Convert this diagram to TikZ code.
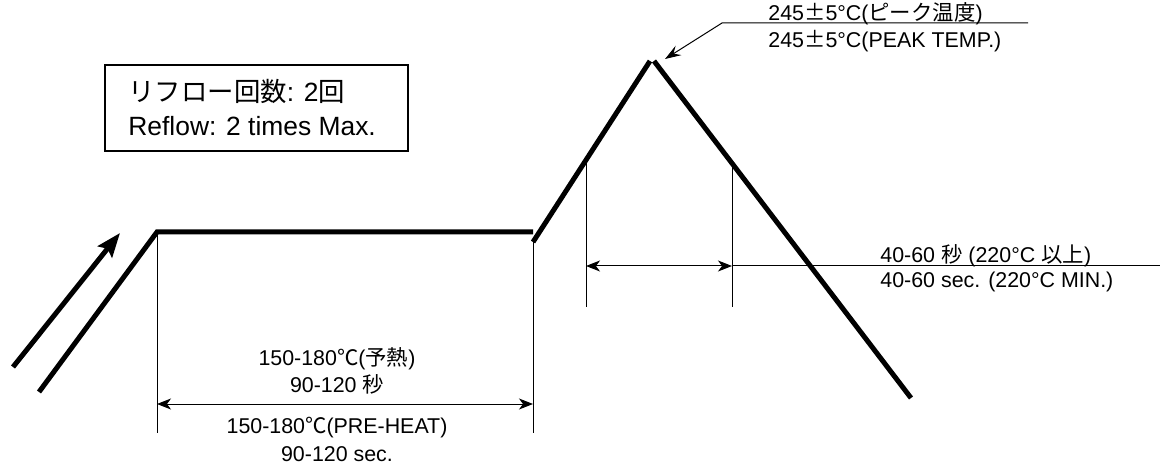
\documentclass[tikz,border=0pt]{standalone}
\usepackage{fontspec}
\setmainfont{Liberation Sans}
\newfontfamily\jpfont{Noto Sans CJK JP}
\usepackage{xcolor}
\usetikzlibrary{arrows.meta}
\usetikzlibrary{positioning}

\begin{document}
\begin{tikzpicture}[x=0.5pt,y=-0.5pt,
        profile/.style={line width=2.5pt},
        thinline/.style={line width=0.5pt},
        dimarrow/.style={thinline,{Stealth[length=7pt,width=5.5pt,inset=2pt]}-{Stealth[length=7pt,width=5.5pt,inset=2pt]}},
        lbl/.style={font=\fontsize{10.7}{13}\selectfont, inner sep=0pt},
        boxlbl/.style={font=\fontsize{13.2}{16}\selectfont, inner sep=0pt, anchor=base west}]
        \useasboundingbox (0,0) rectangle (1160,464);
    %Profile
        \coordinate (start) at (39,392);
        \coordinate (preL) at (157,232);
        \coordinate (preR) at (533,232);
        \coordinate (rampL) at (533,242);
        \coordinate (peakL) at (650,61);
        \coordinate (peakR) at (654,61);
        \coordinate (coolEnd) at (911,398);
        \draw[profile] (start) -- (preL) -- (preR);
        \draw[profile] (rampL) -- (peakL);
        \draw[profile] (peakR) -- (coolEnd);
        \coordinate (heatS) at (13,367);
        \coordinate (heatE) at (120,233);
        \draw[profile,-{Stealth[length=12pt,width=9pt,inset=2pt]}] (heatS) -- (heatE);
    %Preheat
        \coordinate (preBase) at (0,433);
        \coordinate (preDim) at (0,404);
        \draw[thinline] (preL) -- (preL |- preBase);
        \draw[thinline] (rampL) -- (rampL |- preBase);
        \draw[dimarrow] (preL |- preDim) -- (preR |- preDim);
        \node[lbl, anchor=base] (preJa) at (337,365) {150-180{\jpfont ℃}({\jpfont 予熱})};
        \node[lbl, anchor=base] (preJaT) at (337,392) {90-120 {\jpfont 秒}};
        \node[lbl, anchor=base] (preEn) at (337,433) {150-180{\jpfont ℃}(PRE-HEAT)};
        \node[lbl, anchor=base] (preEnT) at (337,461) {90-120 sec.};
    %Above 220
        \coordinate (liqA) at (586,161);
        \coordinate (liqB) at (732,164);
        \coordinate (liqBase) at (0,307);
        \coordinate (liqDim) at (0,266);
        \coordinate (liqEnd) at (1160,266);
        \draw[thinline] (liqA) -- (liqA |- liqBase);
        \draw[thinline] (liqB) -- (liqB |- liqBase);
        \draw[dimarrow] (liqA |- liqDim) -- (liqB |- liqDim);
        \draw[thinline] (liqB |- liqDim) -- (liqEnd);
        \node[lbl, anchor=base west] (liqJa) at (880,263) {40-60 {\jpfont 秒} (220°C {\jpfont 以上})};
        \node[lbl, anchor=base west] (liqEn) at (880,288) {40-60 sec. (220°C MIN.)};
    %Peak
        \coordinate (peakTip) at (665,59);
        \coordinate (leadA) at (722,23);
        \coordinate (leadB) at (1028,23);
        \draw[thinline,-{Stealth[length=8pt,width=5.5pt,inset=3pt]}] (leadB) -- (leadA) -- (peakTip);
        \node[lbl, anchor=base west] (peakJa) at (768,21) {245{\jpfont ±}5°C({\jpfont ピーク温度})};
        \node[lbl, anchor=base west] (peakEn) at (768,48) {245{\jpfont ±}5°C(PEAK TEMP.)};
    %Reflow box
        \node[draw, line width=0.9pt, anchor=north west, minimum width=151.5pt, minimum height=43pt] (reflowBox) at (104,64) {};
        \node[boxlbl] (reflowJa) at (128,102) {{\jpfont リフロー回数}: 2{\jpfont 回}};
        \node[boxlbl] (reflowEn) at (128,136) {Reflow: 2 times Max.};
    \end{tikzpicture}
\end{document}
